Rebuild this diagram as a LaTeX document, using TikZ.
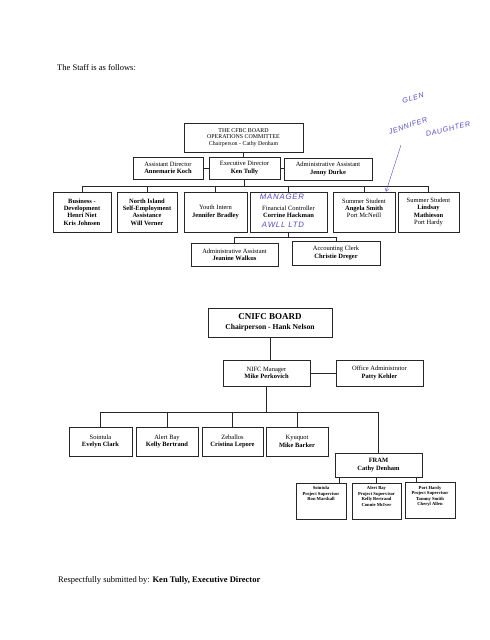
\documentclass[tikz,border=0pt]{standalone}
\usepackage{fontspec}
\setmainfont{Liberation Serif}
\newfontfamily\handfont[LetterSpace=10]{Liberation Sans}
\usetikzlibrary{positioning, arrows.meta, calc}

\definecolor{penink}{RGB}{84,74,196}
\newcommand{\boxfont}{\fontsize{6.5}{7.4}\selectfont}
\newcommand{\tinyfont}{\fontsize{4.6}{5.6}\selectfont\bfseries}
\newcommand{\nm}[1]{\textbf{#1}}

\begin{document}
\begin{tikzpicture}[
    x=1pt, y=-1pt,
    orgbox/.style={
        draw=black!85,
        fill=white,
        line width=0.8pt,
        inner sep=0pt,
        align=center,
        font=\boxfont
    },
    subbox/.style={
        draw=black!85,
        fill=white,
        line width=0.8pt,
        inner sep=0pt,
        align=center,
        minimum height=36pt,
        font=\tinyfont
    },
    link/.style={
        line width=0.8pt,
        draw=black!85
    },
    handnote/.style={
        font=\handfont\itshape\fontsize{7.2}{8}\selectfont,
        text=penink,
        inner sep=0pt
    },
    handarrow/.style={
        -{Straight Barb[length=3pt, width=4pt]},
        thin,
        draw=penink
    },
    pagetext/.style={
        font=\fontsize{8.5}{10}\selectfont,
        anchor=base west,
        inner sep=0pt
    }
]
\useasboundingbox (0,0) rectangle (490,640);

% --- Heading ----------------------------------------------------------------
\node[pagetext] (staff) at (57, 70) {The Staff is as follows:};

% --- CFBC chart: board and directors ------------------------------------------
\node[orgbox, minimum width=119pt, minimum height=29pt,
      font=\fontsize{5.9}{6.8}\selectfont] (ops) at (243.5, 137.5)
    {THE CFBC BOARD\\OPERATIONS COMMITTEE\\Chairperson - Cathy Denham};

\node[orgbox, minimum width=70pt, minimum height=22pt] (asstdir) at (168, 168)
    {Assistant Director\\\nm{Annemarie Koch}};
\node[orgbox, minimum width=71pt, minimum height=22pt] (exec) at (244.5, 168)
    {Executive Director\\\nm{Ken Tully}};
\node[orgbox, minimum width=88pt, minimum height=22pt] (admin) at (328, 169)
    {Administrative Assistant\\\nm{Jenny Durke}};

\draw[link] (ops.south) -- (ops.south |- exec.north);
\draw[link] (asstdir.east) -- (asstdir.east -| exec.west);
\draw[link] (exec.east) -- (exec.east -| admin.west);

% --- CFBC chart: staff row ----------------------------------------------------
\coordinate (bus1) at (0, 186);

\node[orgbox, minimum width=58pt, minimum height=40pt] (biz) at (82, 212)
    {\nm{Business -}\\\nm{Development}\\\nm{Henri Niet}\\\nm{Kris Johnsen}};
\node[orgbox, minimum width=60pt, minimum height=40pt] (nisea) at (147, 212)
    {\nm{North Island}\\\nm{Self-Employment}\\\nm{Assistance}\\\nm{Will Verner}};
\node[orgbox, minimum width=63pt, minimum height=40pt] (youth) at (215.5, 212)
    {Youth Intern\\\nm{Jennifer Bradley}};
\node[orgbox, minimum width=77pt, minimum height=40pt] (finctl) at (288.5, 212)
    {Financial Controller\\\nm{Corrine Hackman}};
\node[orgbox, minimum width=62pt, minimum height=40pt] (angela) at (364, 212)
    {Summer Student\\\nm{Angela Smith}\\Port McNeill\\\mbox{}};
\node[orgbox, minimum width=61pt, minimum height=40pt] (lindsay) at (428.5, 212)
    {Summer Student\\\nm{Lindsay}\\\nm{Mathieson}\\Port Hardy};

\draw[link] (exec.south) -- (exec.south |- bus1);
\draw[link] (biz.north) |- (lindsay.north |- bus1) -- (lindsay.north);
\foreach \n in {nisea, youth, finctl, angela}
    \draw[link] (\n.north) -- (\n.north |- bus1);

% --- CFBC chart: under the financial controller -------------------------------
\coordinate (bus2) at (0, 237);

\node[orgbox, minimum width=87pt, minimum height=23pt] (jeanine) at (234.5, 254.5)
    {Administrative Assistant\\\nm{Jeanine Walkus}};
\node[orgbox, minimum width=88pt, minimum height=24pt] (clerk) at (336, 253)
    {Accounting Clerk\\\nm{Christie Dreger}};

\draw[link] (finctl.south) -- (finctl.south |- bus2);
\draw[link] (jeanine.north) |- (clerk.north |- bus2) -- (clerk.north);

% --- Pen notes ----------------------------------------------------------------
\node[handnote, rotate=16] (glen) at (413, 98) {GLEN};
\node[handnote, rotate=19] (jennifer) at (408, 126) {JENNIFER};
\node[handnote, rotate=14] (daughter) at (448, 129) {DAUGHTER};
\node[handnote, font=\handfont\itshape\fontsize{7.8}{8}\selectfont]
    (manager) at (282, 197) {MANAGER};
\node[handnote, font=\handfont\itshape\fontsize{7.8}{8}\selectfont]
    (awll) at (283, 225) {AWLL LTD};

\coordinate (pen) at (401, 145);
\draw[handarrow] (pen) -- ([xshift=22pt]angela.north);

% --- CNIFC chart --------------------------------------------------------------
\node[orgbox, minimum width=124pt, minimum height=29pt,
      font=\bfseries\fontsize{7.6}{10.5}\selectfont] (cnifc) at (270, 322.5)
    {{\fontsize{9}{10}\selectfont CNIFC BOARD}\\Chairperson - Hank Nelson};

\node[orgbox, minimum width=87pt, minimum height=26pt] (nifc) at (266.5, 373)
    {NIFC Manager\\\nm{Mike Perkovich}};
\node[orgbox, minimum width=87pt, minimum height=26pt] (office) at (379.5, 373)
    {Office Administrator\\\nm{Patty Kehler}};

\draw[link] (cnifc.south) -- (cnifc.south |- nifc.north);
\draw[link] (nifc.east) -- (office.west);

% --- CNIFC chart: communities -------------------------------------------------
\coordinate (bus3) at (0, 412);

\node[orgbox, minimum width=63pt, minimum height=29pt] (sointula) at (100.5, 441.5)
    {Sointula\\\nm{Evelyn Clark}};
\node[orgbox, minimum width=62pt, minimum height=29pt] (alert) at (167, 441.5)
    {Alert Bay\\\nm{Kelly Bertrand}};
\node[orgbox, minimum width=61pt, minimum height=29pt] (zeballos) at (232.5, 441.5)
    {Zeballos\\\nm{Cristina Lepore}};
\node[orgbox, minimum width=62pt, minimum height=29pt] (kyuquot) at (297, 441.5)
    {Kyuquot\\\nm{Mike Barker}};
\node[orgbox, minimum width=87pt, minimum height=24pt] (fram) at (378.5, 465)
    {\nm{FRAM}\\\nm{Cathy Denham}};

\draw[link] (nifc.south) -- (nifc.south |- bus3);
\draw[link] (sointula.north) |- (fram.north |- bus3) -- (fram.north);
\foreach \n in {alert, zeballos, kyuquot}
    \draw[link] (\n.north) -- (\n.north |- bus3);

% --- CNIFC chart: project supervisors -----------------------------------------
\node[subbox, minimum width=50pt] (sps) at (321, 501)
    {\parbox[c][29pt][t]{48pt}{\centering Sointula\\Project Supervisor\\Ron Marshall}};
\node[subbox, minimum width=49pt] (aps) at (376.5, 501)
    {\parbox[c][29pt][t]{47pt}{\centering Alert Bay\\Project Supervisor\\Kelly Bertrand\\Connie McIver}};
\node[subbox, minimum width=50pt] (pps) at (430, 500.5)
    {\parbox[c][29pt][t]{48pt}{\centering Port Hardy\\Project Supervisor\\Tammy Smith\\Cheryl Allen}};

\draw[link] ([xshift=5pt]fram.south west) -- ([xshift=5pt]fram.south west |- sps.north);
\draw[link] (fram.south -| aps.north) -- (aps.north);
\draw[link] ([xshift=-6pt]fram.south east) -- ([xshift=-6pt]fram.south east |- pps.north);

% --- Signature line -----------------------------------------------------------
\node[pagetext] (signed) at (58, 582)
    {Respectfully submitted by: \textbf{Ken Tully, Executive Director}};

\end{tikzpicture}
\end{document}
